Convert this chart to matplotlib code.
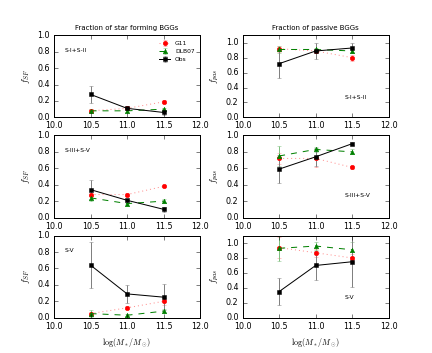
import matplotlib
matplotlib.use('Agg')
import matplotlib.pyplot as plt

plt.style.use('classic')
plt.rcParams['font.size'] = 8

mass = [10.5, 11.0, 11.5]

# star forming fractions (left column), rows: S-I+S-II, S-III+S-V, S-V
sf_obs = [[0.28, 0.11, 0.06], [0.34, 0.21, 0.10], [0.64, 0.29, 0.25]]
sf_obs_err = [[0.10, 0.02, 0.03], [0.12, 0.02, 0.03], [0.28, 0.105, 0.16]]
sf_g11 = [[0.08, 0.11, 0.19], [0.28, 0.28, 0.38], [0.05, 0.12, 0.20]]
sf_g11_err = [[0.02, 0.01, 0.02], [0.02, 0.02, 0.01], [0.02, 0.02, 0.04]]
sf_dlb = [[0.08, 0.08, 0.10], [0.24, 0.17, 0.20], [0.05, 0.03, 0.08]]
sf_dlb_err = [[0.02, 0.01, 0.02], [0.04, 0.01, 0.02], [0.04, 0.01, 0.02]]

# passive fractions (right column)
pas_obs = [[0.72, 0.89, 0.93], [0.59, 0.74, 0.90], [0.35, 0.70, 0.75]]
pas_obs_err = [[0.19, 0.11, 0.07], [0.17, 0.11, 0.02], [0.185, 0.19, 0.34]]
pas_g11 = [[0.92, 0.89, 0.80], [0.72, 0.72, 0.61], [0.94, 0.87, 0.80]]
pas_g11_err = [[0.04, 0.02, 0.04], [0.07, 0.10, 0.02], [0.14, 0.05, 0.05]]
pas_dlb = [[0.91, 0.91, 0.89], [0.75, 0.83, 0.80], [0.93, 0.96, 0.91]]
pas_dlb_err = [[0.05, 0.02, 0.03], [0.12, 0.03, 0.03], [0.17, 0.05, 0.10]]

samples = ['S-I+S-II', 'S-III+S-V', 'S-V']
pas_ylim = [1.1, 1.0, 1.1]


def draw(ax, obs, obs_e, g11, g11_e, dlb, dlb_e):
    ax.errorbar(mass, g11, yerr=g11_e, color='#ff8c8c', ecolor='#ff8c8c', ls=':',
                marker='o', ms=4.5, mfc='red', mec='red', capsize=2, label='G11')
    ax.errorbar(mass, dlb, yerr=dlb_e, color='green', ecolor='#80c080', ls='--',
                marker='^', ms=4.5, mfc='green', mec='green', capsize=2, label='DLB07')
    ax.errorbar(mass, obs, yerr=obs_e, color='black', ecolor='gray', ls='-',
                marker='s', ms=3.5, capsize=2, label='Obs')
    ax.set_xlim(10.0, 12.0)
    ax.set_xticks([10.0, 10.5, 11.0, 11.5, 12.0])


fig, axes = plt.subplots(3, 2, figsize=(6, 353 / 72), dpi=72)
fig.patch.set_facecolor('white')
fig.subplots_adjust(left=0.125, right=0.9, top=0.9, bottom=0.1, wspace=0.29, hspace=0.22)

for i in range(3):
    axl = axes[i, 0]
    draw(axl, sf_obs[i], sf_obs_err[i], sf_g11[i], sf_g11_err[i], sf_dlb[i], sf_dlb_err[i])
    axl.set_ylim(0, 1.0)
    axl.set_ylabel(r'$f_{SF}$', fontsize=9)
    axl.text(10.15, 0.8, samples[i], fontsize=6)

    axr = axes[i, 1]
    draw(axr, pas_obs[i], pas_obs_err[i], pas_g11[i], pas_g11_err[i], pas_dlb[i], pas_dlb_err[i])
    axr.set_ylim(0, pas_ylim[i])
    axr.set_yticks([0.0, 0.2, 0.4, 0.6, 0.8, 1.0])
    axr.set_ylabel(r'$f_{pas}$', fontsize=9)
    axr.text(11.4, 0.25, samples[i], fontsize=6)

    for ax in (axl, axr):
        ax.tick_params(labelsize=8)

axes[0, 0].set_title('Fraction of star forming BGGs', fontsize=7)
axes[0, 1].set_title('Fraction of passive BGGs', fontsize=7)
axes[0, 0].legend(loc='upper right', frameon=False, fontsize=6, numpoints=1,
                  handlelength=1.8)
for ax in axes[2]:
    ax.set_xlabel(r'$\log(M_*/M_\odot)$', fontsize=8)

fig.savefig('out.png', dpi=72, facecolor='white')
